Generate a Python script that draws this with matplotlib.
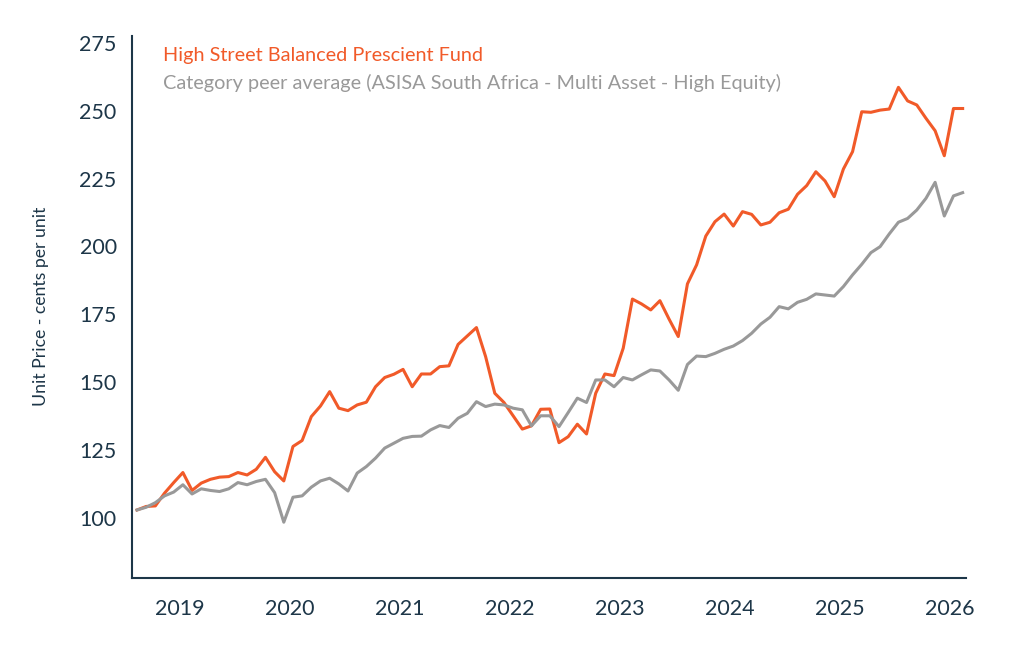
import numpy as np
import matplotlib
matplotlib.use("Agg")
import matplotlib.pyplot as plt

# monthly unit prices, Aug 2018 .. Feb 2026
fund = [102.9, 104.2, 104.4, 109.1, 113.0, 116.7, 110.1, 112.8, 114.2, 115.0,
        115.2, 116.7, 115.8, 117.9, 122.3, 117.0, 113.6, 126.3, 128.5, 137.3,
        141.2, 146.5, 140.4, 139.5, 141.6, 142.6, 148.3, 151.7, 152.9, 154.7,
        148.3, 153.0, 153.0, 155.7, 156.0, 163.9, 167.0, 170.1, 159.4, 145.9,
        142.5, 137.6, 132.7, 133.9, 140.0, 140.1, 127.7, 129.9, 134.5, 130.9,
        145.9, 153.0, 152.4, 162.5, 180.6, 178.8, 176.6, 180.0, 173.2, 166.8,
        186.2, 193.2, 203.8, 209.1, 211.9, 207.5, 212.8, 211.8, 207.9, 208.9,
        212.4, 213.7, 219.2, 222.4, 227.5, 224.1, 218.3, 228.5, 234.9, 249.6,
        249.4, 250.2, 250.6, 258.6, 253.6, 252.1, 247.2, 242.6, 233.4, 250.8,
        250.8]
peers = [102.9, 103.9, 105.6, 108.1, 109.5, 112.2, 108.8, 110.7, 110.1, 109.7,
         110.7, 113.0, 112.2, 113.4, 114.2, 109.3, 98.4, 107.6, 108.1, 111.3,
         113.6, 114.6, 112.5, 109.9, 116.5, 118.9, 122.0, 125.7, 127.5, 129.3,
         130.0, 130.1, 132.4, 134.0, 133.3, 136.7, 138.5, 142.8, 141.0, 141.9,
         141.6, 140.4, 139.8, 133.9, 137.6, 137.6, 133.6, 138.8, 144.1, 142.5,
         150.8, 150.8, 148.3, 151.7, 150.8, 152.7, 154.5, 154.1, 150.8, 147.0,
         156.5, 159.6, 159.4, 160.6, 162.1, 163.3, 165.3, 168.0, 171.4, 173.9,
         177.8, 177.0, 179.4, 180.5, 182.5, 182.1, 181.7, 185.2, 189.5, 193.4,
         197.7, 199.9, 204.6, 208.9, 210.3, 213.4, 217.7, 223.6, 211.2, 218.6,
         219.8]
years = [2019, 2020, 2021, 2022, 2023, 2024, 2025, 2026]
fund_name = "High Street Balanced Prescient Fund"
peer_name = "Category peer average (ASISA South Africa - Multi Asset - High Equity)"

orange = "#f15a29"
grey = "#999999"
navy = "#1d3648"

plt.rcParams['font.family'] = ['Lato', 'DejaVu Sans']

x = 2018.614 + np.arange(len(fund)) / 12.0

fig = plt.figure(figsize=(10.15, 6.5), dpi=100)
ax = fig.add_axes([0.130, 0.111, 0.822, 0.834])

ax.plot(x, fund, color=orange, linewidth=2.2, label=fund_name)
ax.plot(x, peers, color=grey, linewidth=2.2, label=peer_name)

ax.set_xlim(2018.568, 2026.147)
ax.set_ylim(77.9, 277.6)
ax.set_yticks(range(100, 276, 25))
ax.set_xticks(years)
ax.tick_params(length=0, labelsize=15.5, colors=navy)
ax.tick_params(axis='y', pad=11)
ax.tick_params(axis='x', pad=15)
for s in ['top', 'right']:
    ax.spines[s].set_visible(False)
for s in ['left', 'bottom']:
    ax.spines[s].set_color(navy)
    ax.spines[s].set_linewidth(1.5)

ax.set_ylabel("Unit Price - cents per unit", fontsize=12.7, color=navy, labelpad=21.5)

leg = ax.legend(loc='upper left', bbox_to_anchor=(0.0154, 1.012), frameon=False,
                handlelength=0, handletextpad=0, fontsize=14.3, labelspacing=0.5)
for txt, ln in zip(leg.get_texts(), leg.get_lines()):
    txt.set_color(ln.get_color())
    ln.set_visible(False)

fig.savefig("out.png", dpi=100)
